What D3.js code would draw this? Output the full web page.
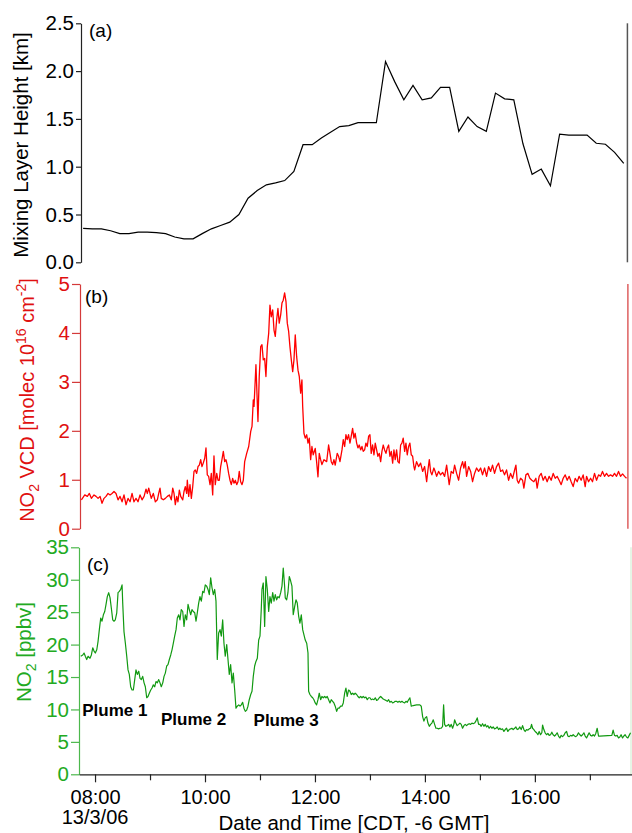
<!DOCTYPE html>
<html><head><meta charset="utf-8">
<script src="https://cdn.jsdelivr.net/npm/d3@7"></script>
<style>
body{margin:0;background:#fff;}
svg{display:block;font-family:"Liberation Sans",Arial,sans-serif;}
</style></head><body>
<svg id="chart" width="632" height="833"></svg>
<script>
// ---------- DATA (minutes after 08:00 CDT, 13/3/06) ----------
const mlhMinutes = [-13,-3,7,17,27,37,47,57,67,77,87,97,107,117,127,137,147,157,167,177,187,197,207,217,227,237,247,257,267,277,287,297,307,317,327,337,347,357,367,377,387,397,407,417,427,437,447,457,467,477,487,497,507,517,527,537,547,557,567,577];
const mlhKm = [0.355,0.35,0.35,0.33,0.30,0.30,0.315,0.315,0.31,0.30,0.265,0.245,0.245,0.30,0.35,0.385,0.42,0.50,0.67,0.75,0.81,0.83,0.855,0.95,1.23,1.23,1.30,1.36,1.42,1.43,1.46,1.46,1.46,2.10,1.89,1.70,1.85,1.70,1.72,1.83,1.83,1.37,1.52,1.42,1.37,1.77,1.71,1.70,1.24,0.92,0.975,0.80,1.34,1.33,1.33,1.33,1.245,1.235,1.15,1.035];

const vcdSeries = [[-14.9,.59],[-11.2,.69],[-8.4,.66],[-6.2,.72],[-4,.62],[-1.1,.69],[1.1,.66],[3.3,.62],[5.5,.66],[7.6,.52],[9.8,.62],[12,.66],[14.2,.72],[16.4,.69],[18.5,.72],[20.7,.76],[22.9,.72],[25.1,.59],[27.3,.66],[29.5,.55],[31.6,.69],[33.8,.49],[36,.62],[38.2,.55],[40.4,.72],[42.5,.55],[44.7,.62],[46.9,.55],[49.1,.69],[51.3,.59],[53.5,.66],[55.6,.81],[57.1,.72],[58.6,.83],[60,.72],[61.4,.62],[63.6,.72],[65.8,.55],[68,.59],[69.5,.72],[70.9,.83],[72.3,.62],[74.5,.59],[76.7,.62],[78.9,.66],[81.1,.69],[83.2,.59],[84.8,.83],[86.2,.72],[87.6,.49],[89.1,.66],[90.5,.55],[92,.79],[93.5,.66],[95.7,.59],[97.1,.76],[98.5,.86],[100,.72],[100.7,.99],[102.2,.66],[103.6,.9],[105.1,.62],[106.6,.86],[108,1.17],[109.4,1.2],[110.9,1.13],[112.4,1.27],[113.8,1.3],[115.3,1.41],[116.7,1.27],[118.1,1.34],[119.7,1.44],[121.1,1.65],[122.5,1.1],[124,1.07],[125.5,.9],[126.9,1.13],[128.4,.69],[129.8,1.49],[131.2,.9],[132.8,1.13],[134.2,.99],[135.6,.99],[137.1,1.27],[138.5,1.41],[140,1.58],[141.5,1.37],[142.9,1.41],[144.3,1.3],[145.8,1.13],[147.3,.99],[148.7,.9],[150.2,1.03],[151.6,.93],[153.1,.99],[154.6,.9],[156,.96],[157.4,1.17],[158.9,.96],[160.4,.9],[161.8,.99],[163.3,1.37],[165.5,1.54],[167.7,1.68],[169.9,1.99],[171.3,2.09],[172.7,2.63],[173.5,2.5],[175.6,3.35],[177.8,2.19],[179.2,3.11],[180.8,3.72],[182.2,3.76],[183.6,3.45],[185.1,3.48],[186.5,3.11],[188,3.72],[189.5,3.99],[190.9,4.57],[192.3,4.33],[193.9,4.47],[195.3,4.06],[196.7,3.93],[198.2,4.27],[199.6,4.5],[201,4.2],[202.6,4.37],[204,4.61],[205.4,4.67],[206.9,4.82],[208.4,4.64],[209.8,4.2],[211.3,4.03],[212.7,3.72],[214.2,3.45],[215.7,3.21],[217.1,3.45],[218.5,3.96],[220,3.52],[221.5,3.24],[222.9,3.11],[224.4,2.77],[225.8,3.04],[226.6,2.5],[228,1.95],[229.4,1.85],[231,1.92],[232.4,1.75],[233.8,1.85],[235.3,1.41],[236.7,1.68],[238.1,1.51],[240.3,1.64],[241.8,1.37],[243.3,1.06],[244.7,1.54],[246.2,1.41],[247.6,1.31],[249.8,1.41],[252.8,1.37],[254.9,1.71],[256.4,1.54],[257.8,1.37],[259.3,1.31],[260.7,1.41],[262.1,1.3],[264.3,1.54],[265.8,1.48],[267.3,1.37],[269.5,1.61],[270.9,1.82],[272.4,1.68],[273.8,1.92],[275.2,1.82],[276.7,1.92],[278.2,1.75],[279.6,1.89],[281.1,2.05],[282.5,1.85],[283.9,1.95],[285.5,1.75],[286.9,1.65],[288.3,1.71],[289.9,1.61],[291.3,1.68],[292.7,1.58],[294.2,1.61],[295.6,1.75],[297.1,1.68],[298.6,1.89],[300,1.92],[301.4,1.54],[302.9,1.71],[304.4,1.51],[305.8,1.75],[307.3,1.61],[308.7,1.48],[310.2,1.54],[311.7,1.37],[313.1,1.58],[314.5,1.71],[316,1.61],[317.5,1.54],[318.9,1.65],[320.4,1.71],[321.8,1.48],[323.3,1.58],[324.8,1.34],[326.2,1.61],[327.6,1.41],[329.1,1.61],[330.5,1.37],[332,1.34],[333.5,1.71],[334.9,1.75],[336.3,1.85],[337.9,1.58],[339.3,1.75],[340.7,1.51],[342.2,1.68],[343.6,1.75],[345.1,1.51],[346.6,1.48],[348,1.27],[348.8,1.2],[350.9,1.37],[353.1,1.27],[355.3,1.34],[357.5,1.17],[359.7,1.27],[361.9,.96],[363.3,1.2],[364.8,1.41],[366.2,1.17],[367.6,1.1],[369.8,1.24],[371.2,1.17],[372.8,1.07],[374.9,1.17],[377.1,1.1],[379.3,1.15],[381.5,1.07],[383.7,1.3],[385.1,1.1],[386.5,.9],[388.7,1.17],[390.9,1.13],[392.4,1.3],[394.6,1.13],[396.8,.99],[398.9,1.24],[401.1,1.37],[402.5,1.24],[404,1.37],[405.5,1.07],[407.7,1.27],[409.9,1.17],[412,.96],[414.2,1.13],[416.4,1.24],[418.6,1.17],[420.8,1.24],[422.9,1.1],[425.1,1.24],[427.3,1.07],[429.5,1.27],[431.7,1.17],[433.8,1.3],[436,1.13],[438.2,1.27],[440.4,1.34],[442.6,1.17],[444.8,1.2],[446.9,1.1],[449.1,1.2],[451.3,.99],[453.5,1.13],[455.7,1.03],[457.9,1.2],[459.3,1.3],[460.7,.99],[462.2,.93],[464.4,1.03],[466.6,.99],[468,.83],[470.2,1.1],[472.4,1.13],[474.5,1.03],[476.7,.99],[478.9,.96],[481.1,1.03],[482.5,.83],[484.7,1.07],[486.9,1.13],[489.1,.99],[491.2,1.07],[493.4,.96],[495.6,1.07],[497.8,.99],[500,1.13],[502.2,1.03],[504.3,1.07],[506.5,.99],[508.7,.9],[510.9,1.03],[513.1,1.1],[515.3,.99],[517.4,1.07],[519.6,.96],[521.8,.86],[524,1.03],[526.2,.96],[528.3,1.07],[530.5,.99],[532.7,1.1],[534.9,.86],[536.4,1.07],[538.6,.96],[540.8,1.03],[542.9,.96],[545.1,1.13],[547.3,.99],[549.5,1.1],[551.7,1.07],[553.8,1.17],[556,1.07],[558.2,1.13],[560.4,1.07],[562.6,1.1],[564.8,1.07],[566.9,1.13],[569.1,1.07],[571.3,1.17],[573.5,1.07],[575.7,1.12],[577.9,1.07],[580,1.03]];

const no2Series = [[-15.6,18.2],[-13.4,18.4],[-12,18.7],[-10.6,18.2],[-9.1,17.7],[-7.6,18.2],[-5.5,17.9],[-4,18.4],[-2.5,19.5],[-1.1,19],[0.3,18.7],[1.9,19.2],[3.3,20.5],[4.7,22.3],[6.2,24.1],[7.6,23.6],[9.1,24.6],[10.6,25.1],[12,26.2],[13.4,27.4],[14.9,28],[16.4,27.2],[17.8,25.6],[19.3,23.8],[20.7,23.6],[22.1,23.8],[23.7,24.9],[25.1,28],[26.5,28.2],[28,28.5],[29.5,29.2],[30.2,26.4],[31.6,22],[33.1,20.2],[34.6,18.2],[36,16.1],[37.4,15.4],[38.9,13.5],[40.4,13],[41.8,13],[43.3,14.6],[44.7,16.1],[46.1,15.4],[47.7,15.9],[49.1,14.8],[50.5,14.6],[52,15.1],[53.5,14.1],[54.9,13.5],[56.4,11.8],[57.8,12],[59.2,12.5],[60.8,13],[62.2,13.3],[63.6,13.8],[65.1,13.5],[66.5,14.3],[68,14.1],[69.5,14.6],[70.9,14.1],[72.3,13.5],[73.9,14.1],[75.3,15.1],[76.7,15.6],[78.2,16.7],[79.6,16.9],[81.1,17.7],[82.6,18.4],[84,19.2],[85.4,20.2],[86.9,21.3],[88.4,22.3],[89.8,24.1],[91.3,24.6],[92.7,23.8],[94.1,25.4],[95.7,25.1],[97.1,22.8],[98.5,24.6],[100,23.8],[101.5,26.2],[102.9,25.4],[104.4,24.6],[105.8,25.4],[107.2,25.1],[108.8,24.9],[110.2,23.6],[111.6,24.9],[113.1,26.4],[114.5,27.4],[116,26.7],[117.5,28.2],[118.9,28],[120.3,29.2],[121.9,29],[123.3,28.5],[124.7,27.7],[126.2,30.3],[127.6,28.8],[129.1,27.7],[130.6,28.5],[132,26.7],[133.4,17.7],[134.9,21.8],[136.4,22.3],[137.8,21.3],[139.3,23.8],[140.7,20.2],[142.1,18.2],[143.7,20],[145.1,17.7],[146.5,15.4],[148,16.9],[149.5,14.1],[150.9,15.6],[152.4,13],[153.8,10.2],[155.2,10.5],[156.8,10.7],[158.2,10.5],[159.6,10.7],[161.1,11.1],[162.5,10.2],[164,9.7],[165.5,9.9],[166.9,10.5],[168.3,11.5],[169.9,12.3],[171.3,12.8],[172.7,15.1],[174.2,16.7],[175.6,17.4],[177.1,17.9],[178.6,20.7],[180,21.3],[181.4,25.4],[182.2,28.5],[183.6,29.5],[185.1,22.8],[186.5,30.5],[188,28.5],[189.5,25.1],[190.9,27.4],[192.3,26.4],[193.9,28],[195.3,26.7],[196.7,27.7],[198.2,26.9],[199.6,27.4],[201,27.2],[202.6,28],[204,29],[205.4,31.8],[206.9,29],[207.6,27.2],[209.1,26.9],[210.5,28],[212,30.5],[213.5,29.8],[214.9,29],[216.3,24.6],[217.9,25.9],[219.3,26.9],[220.7,26.4],[222.2,24.4],[223.6,23.3],[225.1,24.6],[226.6,22.3],[228,21.5],[229.4,20.7],[231,20.2],[232.4,18.7],[233.1,12.8],[234.5,12.3],[236,12],[237.5,11.8],[238.9,11.5],[240.3,11],[241.8,10.7],[243.3,11.5],[244.7,12.5],[246.2,11.5],[247.6,12],[249.1,11.8],[250.6,12],[252,11.8],[253.4,12],[254.9,11.5],[256.4,11],[257.8,11.5],[259.3,11.25],[260.7,11],[262.1,10.5],[263.7,9.7],[265.1,10.2],[266.5,10.2],[268,10.5],[269.5,10.5],[270.9,11],[272.4,12.5],[273.8,13.3],[275.2,12],[276.7,13],[278.2,12.8],[279.6,12.3],[281.1,12.5],[282.5,12.3],[283.9,12.5],[285.5,12.3],[286.9,12],[288.3,11.8],[289.9,12],[291.3,11.8],[292.7,12],[294.2,11.8],[295.6,11.9],[297.1,11.5],[298.6,11.8],[300,11.8],[301.4,11.5],[302.9,11.6],[304.4,11.5],[305.8,11.8],[307.3,11.4],[308.7,11.5],[310.2,11.8],[311.7,12],[313.1,11.8],[314.5,11.6],[316,11.5],[317.5,11.4],[318.9,11.25],[320.4,11.5],[321.8,11.1],[323.3,11.25],[324.8,11],[326.2,11.1],[327.6,11.25],[329.1,11.25],[330.5,11.1],[332,11.25],[333.5,11.1],[334.9,11.25],[336.3,11.1],[337.9,11],[339.3,11.25],[340.7,11.1],[342.2,11.5],[343.6,11.8],[345.1,10.5],[347.2,10.6],[350.9,10.7],[354.5,10.7],[356,10.5],[357.5,8.9],[358.9,8.2],[360.3,8.7],[361.9,8.9],[363.3,7.9],[364.8,7.4],[366.2,7.7],[367.6,7.9],[369.1,8.4],[370.6,7.7],[372,7.1],[373.4,7.1],[374.9,7],[376.4,7.1],[377.8,7.1],[379.3,7.4],[380.4,10.7],[381.5,7.7],[382.9,7.4],[384.3,7.5],[385.9,7.7],[387.3,7.3],[388.7,7.7],[390.2,7.1],[391.6,7.7],[392.4,8.4],[393.8,7.9],[395.2,7.5],[396.8,7.7],[398.2,7.9],[399.6,7.7],[401.1,7.1],[402.5,7.5],[404,7.7],[405.5,7.5],[406.9,7.7],[408.3,7.8],[409.9,7.7],[411.3,7.9],[412.7,7.8],[414.2,7.9],[415.6,8.2],[417.1,8.7],[418.6,7.7],[420,7.7],[421.4,7.4],[422.9,7.8],[424.4,7.4],[425.8,7.7],[427.3,7.3],[428.7,7.5],[430.1,7.1],[431.6,7.4],[433.1,7.1],[434.5,7.3],[436,7],[437.5,7.1],[438.9,7.3],[440.4,6.9],[441.8,7.1],[443.2,6.9],[444.8,7],[446.2,6.6],[447.6,6.9],[449.1,7.1],[450.5,6.6],[452,6.9],[453.5,7],[454.9,7.1],[456.3,6.9],[457.9,7.1],[459.3,7.3],[460.7,6.9],[462.2,7],[463.6,7.3],[465.1,6.9],[466.6,7.5],[468,6.9],[469.4,6.6],[470.9,6.9],[472.4,6.8],[473.8,7],[475.3,7.1],[476.4,7.7],[477.5,7.1],[478.9,6.9],[480.3,6.6],[481.9,6.4],[483.3,6.1],[484.7,6.6],[486.2,6.1],[487.6,6.4],[488.4,7.6],[489.8,6.9],[491.2,6.4],[492.7,6.1],[494.2,6.3],[495.6,6],[497.1,6.1],[498.5,6.5],[499.9,6.1],[501.5,5.9],[502.9,6.1],[504.3,6.4],[505.8,5.9],[507.3,5.6],[508.7,6],[510.2,5.8],[511.6,6],[513.1,6.4],[514.6,6.6],[516,5.9],[517.4,5.8],[518.9,6],[520.4,5.9],[521.8,6.1],[523.3,5.9],[524.7,5.8],[526.2,6],[527.6,6.4],[529.1,6.1],[530.5,5.9],[532,6.1],[533.5,6.4],[534.9,5.9],[536.4,5.6],[537.8,6],[539.2,6.4],[540.8,6],[542.2,5.9],[543.6,6.1],[545.1,5.9],[546.5,6.3],[548,7.1],[549.5,5.9],[550.9,5.9],[564,6],[565.4,6.8],[566.9,6],[568.4,5.9],[569.8,6],[571.3,5.6],[572.7,5.75],[574.1,6.1],[575.7,5.6],[577.1,5.9],[578.5,6.1],[580,5.75],[581.5,5.6],[582.9,6],[584.4,6.4]];

const mlhTicks = [0, 0.5, 1.0, 1.5, 2.0, 2.5];
const vcdTicks = [0, 1, 2, 3, 4, 5];
const no2Ticks = [0, 5, 10, 15, 20, 25, 30, 35];
const majorHours = [8, 10, 12, 14, 16];
const minorHours = [9, 11, 13, 15, 17];
const dateLabel = "13/3/06";
const plumes = [{label:"Plume 1", minute:-14, value:9.0}, {label:"Plume 2", minute:72, value:7.6}, {label:"Plume 3", minute:173, value:7.4}];

// ---------- SCALES ----------
const base = new Date(2006, 2, 13, 8, 0, 0);
const toDate = m => new Date(base.getTime() + m * 60000);
const x = d3.scaleTime().domain([toDate(-17.5), toDate(586)]).range([79, 632]);
const yA = d3.scaleLinear().domain([0, 2.5]).range([262.3, 23.3]);
const yB = d3.scaleLinear().domain([0, 5]).range([528.7, 284]);
const yC = d3.scaleLinear().domain([0, 35]).range([774.3, 547.3]);

const svg = d3.select("#chart");
const FONT = '"Liberation Sans", Arial, sans-serif';
const black = "#000", red = "#ff0000", redAx = "#d43a3a", redTx = "#e01010", green = "#119911", greenTx = "#22aa22", greenAx = "#4cb84c";

function yAxis(scale, ticks, fmt, color, axColor, xPos, tickLen) {
  const g = svg.append("g").attr("transform", `translate(${xPos},0)`)
    .call(d3.axisLeft(scale).tickValues(ticks).tickFormat(fmt).tickSizeInner(tickLen).tickSizeOuter(0).tickPadding(2));
  g.select(".domain").attr("stroke", axColor).attr("stroke-width", 1.2);
  g.selectAll(".tick line").attr("stroke", axColor).attr("stroke-width", 1.2);
  g.selectAll(".tick text").attr("fill", color).attr("font-size", 20.5).attr("font-family", FONT);
  return g;
}

// ---------- PANEL (a) ----------
yAxis(yA, mlhTicks, d3.format(".1f"), black, "#222", 81, 5);
svg.append("line").attr("x1", x(toDate(581))).attr("x2", x(toDate(581)))
  .attr("y1", yA(2.5)).attr("y2", yA(0)).attr("stroke", "#555").attr("stroke-width", 1.5);
svg.append("path").datum(mlhMinutes.map((m, i) => [m, mlhKm[i]]))
  .attr("fill", "none").attr("stroke", black).attr("stroke-width", 1.2)
  .attr("d", d3.line().x(d => x(toDate(d[0]))).y(d => yA(d[1])));
svg.append("text").attr("x", 89).attr("y", 37).attr("font-size", 19).text("(a)");
svg.append("text").attr("transform", "translate(28,145) rotate(-90)").attr("text-anchor", "middle")
  .attr("font-size", 20.5).attr("fill", black).text("Mixing Layer Height [km]");

// ---------- PANEL (b) ----------
yAxis(yB, vcdTicks, d3.format("d"), redTx, redAx, 80, 8);
svg.append("line").attr("x1", x(toDate(581.5))).attr("x2", x(toDate(581.5)))
  .attr("y1", yB(5)).attr("y2", yB(0)).attr("stroke", "#e06a6a").attr("stroke-width", 1.6);
svg.append("path").datum(vcdSeries)
  .attr("fill", "none").attr("stroke", red).attr("stroke-width", 1.3).attr("stroke-linejoin", "round")
  .attr("d", d3.line().x(d => x(toDate(d[0]))).y(d => yB(d[1])));
svg.append("text").attr("x", 85).attr("y", 303).attr("font-size", 19).text("(b)");
{
  const t = svg.append("text").attr("transform", "translate(33.5,400) rotate(-90)").attr("text-anchor", "middle")
    .attr("font-size", 20).attr("fill", redTx);
  t.append("tspan").text("NO");
  t.append("tspan").attr("font-size", 14).attr("dy", 5).text("2");
  t.append("tspan").attr("dy", -5).text(" VCD [molec 10");
  t.append("tspan").attr("font-size", 14).attr("dy", -8).text("16");
  t.append("tspan").attr("dy", 8).text(" cm");
  t.append("tspan").attr("font-size", 14).attr("dy", -8).text("-2");
  t.append("tspan").attr("dy", 8).text("]");
}

// ---------- PANEL (c) ----------
yAxis(yC, no2Ticks, d3.format("d"), greenTx, greenAx, 79, 8);
svg.append("line").attr("x1", 631).attr("x2", 631).attr("y1", yC(35)).attr("y2", yC(0))
  .attr("stroke", "#d6eed6").attr("stroke-width", 1.2);
svg.append("path").datum(no2Series)
  .attr("fill", "none").attr("stroke", green).attr("stroke-width", 1.2).attr("stroke-linejoin", "round")
  .attr("d", d3.line().x(d => x(toDate(d[0]))).y(d => yC(d[1])));
svg.append("text").attr("x", 87).attr("y", 571).attr("font-size", 19).text("(c)");
{
  const t = svg.append("text").attr("transform", "translate(31,652) rotate(-90)").attr("text-anchor", "middle")
    .attr("font-size", 20.5).attr("fill", greenTx);
  t.append("tspan").text("NO");
  t.append("tspan").attr("font-size", 14).attr("dy", 5).text("2");
  t.append("tspan").attr("dy", -5).text(" [ppbv]");
}
svg.selectAll(".plume").data(plumes).enter().append("text").attr("class", "plume")
  .attr("x", d => x(toDate(d.minute))).attr("y", d => yC(d.value))
  .attr("font-size", 17).attr("font-weight", "bold").attr("fill", black).text(d => d.label);

// ---------- X AXIS ----------
const xg = svg.append("g").attr("transform", `translate(0,${yC(0)})`)
  .call(d3.axisBottom(x).tickValues(majorHours.map(h => toDate((h - 8) * 60)))
    .tickFormat(d3.timeFormat("%H:%M")).tickSizeInner(8).tickSizeOuter(0).tickPadding(3));
xg.select(".domain").attr("stroke", "#222").attr("stroke-width", 1.2);
xg.selectAll(".tick line").attr("stroke", "#222").attr("stroke-width", 1.2);
xg.selectAll(".tick text").attr("font-size", 20).attr("font-family", FONT).attr("fill", black)
  .attr("y", 29.5).attr("dy", 0);
// date line under the first tick, drawn as its own text at the same tick position
svg.append("text").attr("x", x(toDate(0))).attr("y", yC(0) + 49.5).attr("text-anchor", "middle")
  .attr("font-size", 20).attr("fill", black).text(dateLabel);
const xm = svg.append("g").attr("transform", `translate(0,${yC(0)})`)
  .call(d3.axisBottom(x).tickValues(minorHours.map(h => toDate((h - 8) * 60))).tickFormat("").tickSizeInner(6).tickSizeOuter(0));
xm.select(".domain").remove();
xm.selectAll(".tick line").attr("stroke", "#222").attr("stroke-width", 1.2);
svg.append("text").attr("x", 354).attr("y", 830).attr("text-anchor", "middle").attr("font-size", 20.5)
  .attr("fill", black).text("Date and Time [CDT, -6 GMT]");
</script>
</body></html>
